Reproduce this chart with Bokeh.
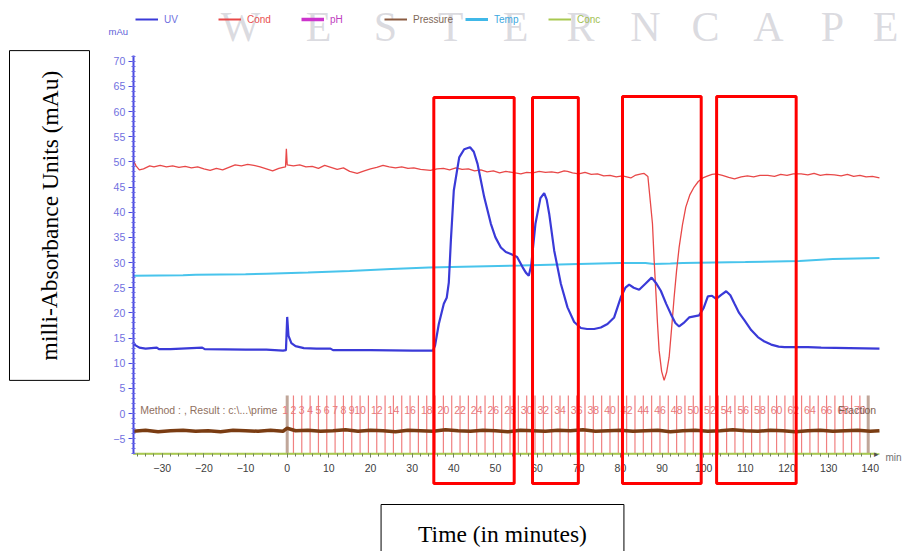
from bokeh.plotting import figure
from bokeh.models import (Range1d, LinearAxis, Legend, LegendItem, Label,
                          BoxAnnotation, ColumnDataSource, SingleIntervalTicker)
from bokeh.core.properties import value
from bokeh.embed import file_html
from bokeh.resources import INLINE

NaN = float("nan")

# ---------------- data ----------------
uv_x = [-37, -36.5, -35.5, -34, -31.3, -30.8, -28, -20.4, -19.8, -10, -5, -1, -0.3, 0.0, 0.3, 1, 2, 4, 7,
        10.4, 11, 15, 20, 30, 35, 35.5, 36.4, 37.6, 38.3, 38.8, 39.3, 40.0, 41.3, 42.5, 43.9, 44.8,
        45.7, 46.5, 47.3, 48.9, 50.0, 51.3, 52.5, 53.7, 55.2, 56.5, 57.3, 58.0, 58.6, 59.6, 60.8,
        61.7, 62.3, 62.9, 64.1, 65.7, 67.3, 68.9, 70.5, 72, 73.7, 75.3, 76.9, 78.5, 80.1, 81.2,
        82.1, 83.2, 84.5, 86.0, 87.5, 88.5, 89.7, 91.0, 92.1, 93.2, 94.1, 95.2, 96.5, 98.9, 100.0,
        101.0, 102.0, 103.0, 104.2, 105.4, 106.4, 107.4, 108.5, 109.8, 111.4, 113.0, 114.6, 116.2,
        118, 119.4, 125, 128.2, 135, 142.2]
uv_y = [14.2, 13.6, 13.1, 12.9, 13.1, 12.8, 12.8, 13.1, 12.8, 12.7, 12.7, 12.5, 12.6, 19.2, 15.5, 14.0,
        13.4, 13.0, 12.9, 12.9, 12.6, 12.6, 12.6, 12.5, 12.5, 13.5, 17.8, 21.8, 23.0, 26.0, 34.4,
        44.3, 50.9, 52.5, 52.9, 52.0, 49.6, 46.3, 43.0, 37.7, 35.0, 33.0, 32.1, 31.7, 31.1, 29.1,
        28.0, 27.4, 29.5, 37.7, 42.8, 43.8, 42.5, 39.7, 32.4, 25.8, 21.1, 18.2, 17.0, 16.8, 16.8,
        17.1, 17.8, 19.1, 23.1, 25.0, 25.6, 25.0, 24.6, 25.8, 27.0, 26.0, 24.4, 21.8, 19.8, 18.0,
        17.3, 18.0, 19.1, 19.5, 21.0, 23.3, 23.4, 22.8, 23.6, 24.3, 23.5, 21.8, 20.0, 18.5, 16.6,
        15.2, 14.3, 13.7, 13.3, 13.2, 13.2, 13.1, 13.0, 12.9]

cond_x = [-37, -36.3, -35.5, -34.5, -33, -32, -30.5, -29, -27.5, -26, -24.5, -23, -21.5, -20, -18.5,
          -17, -15.5, -14, -12.5, -11, -9.5, -8, -6.5, -5, -3.5, -2, -1, -0.4, -0.2, 0.0, 1.5, 3,
          4.5, 6, 7.5, 9, 10.5, 12, 13.5, 15, 16.8, 18.5, 20, 21.5, 23, 24.5, 26, 27.5, 29, 30.4,
          32, 34.4, 36, 37.5, 39, 40.5, 42, 43.5, 45, 46.5, 48, 49.5, 51, 52.5, 54, 56.1, 57.5, 59,
          60.5, 62, 63.5, 65, 66.5, 67.3, 68.5, 70, 71.5, 73, 74.5, 76, 77.5, 79, 80.5, 82.5, 83.5,
          85, 85.7, 86.6, 87.2, 87.7, 88.1, 88.5, 88.9, 89.3, 89.9, 90.5, 91.1, 91.7, 92.3, 92.9,
          93.5, 94.1, 94.9, 95.7, 96.7, 97.7, 98.7, 99.8, 101, 102, 103, 104.5, 106, 107.4, 109,
          110.5, 112, 113.5, 115.4, 117, 118.5, 120, 121.5, 123.4, 125, 126.5, 128, 129.5, 131.4,
          133, 134.5, 136, 137.5, 139, 140.5, 142.2]
cond_y = [50.4, 49.2, 48.4, 48.6, 49.2, 49.0, 49.3, 49.0, 49.2, 48.9, 49.1, 48.8, 49.0, 48.6, 48.3,
          48.7, 48.4, 48.9, 49.4, 49.2, 49.5, 49.3, 49.0, 48.6, 48.2, 48.7, 48.9, 49.0, 52.6, 49.4,
          49.2, 49.4, 49.0, 49.1, 48.7, 49.3, 48.9, 48.5, 48.8, 48.1, 47.7, 48.2, 48.6, 48.9, 49.3,
          49.0, 48.8, 49.0, 48.7, 48.8, 48.5, 48.3, 48.6, 48.7, 48.4, 48.8, 48.5, 48.6, 48.2, 48.4,
          48.0, 48.2, 47.8, 48.1, 47.9, 47.6, 47.9, 47.8, 48.1, 47.9, 48.0, 47.8, 48.2, 48.1, 47.8,
          47.6, 47.9, 47.5, 47.6, 47.2, 47.3, 47.0, 47.2, 46.8, 47.3, 47.6, 47.7, 47.1, 42.0, 37.7,
          30.5, 24.4, 18.0, 12.5, 8.4, 6.6, 8.2, 11.2, 17.0, 23.1, 28.5, 33.0, 37.5, 41.0, 43.5,
          45.0, 46.1, 46.8, 47.2, 47.5, 47.6, 47.3, 46.9, 46.6, 47.0, 47.2, 47.0, 47.3, 47.3, 47.1,
          47.5, 47.3, 47.6, 47.6, 47.4, 47.7, 47.3, 47.5, 47.4, 47.2, 47.5, 47.1, 47.3, 47.0, 47.1,
          46.8]

temp_x = [-37, -25, -22, -10, -5, 5, 15, 25, 34, 45, 56, 70, 80, 86, 88, 92, 95, 110, 123, 127, 131, 142.2]
temp_y = [27.4, 27.5, 27.6, 27.7, 27.8, 28.0, 28.3, 28.7, 29.0, 29.2, 29.4, 29.7, 29.9, 29.9, 29.7,
          29.8, 29.9, 30.1, 30.3, 30.5, 30.7, 30.9]

pressure_x = [-37, -34, -31, -28, -25, -22, -19, -16, -13, -10, -7, -4, -1, 0, 2, 5, 8, 11, 14, 17,
              20, 23, 26, 29, 32, 35, 38, 41, 44, 47, 50, 53, 56, 59, 62, 65, 68, 71, 74, 77, 80,
              83, 86, 89, 92, 95, 98, 101, 104, 107, 110, 113, 116, 119, 122, 125, 128, 131, 134,
              137, 140, 142.2]
pressure_y = [-3.5, -3.3, -3.6, -3.4, -3.3, -3.5, -3.4, -3.6, -3.3, -3.4, -3.5, -3.3, -3.5, -2.9,
              -3.4, -3.3, -3.5, -3.4, -3.2, -3.5, -3.3, -3.4, -3.6, -3.3, -3.4, -3.5, -3.2, -3.4,
              -3.5, -3.3, -3.4, -3.6, -3.3, -3.4, -3.5, -3.3, -3.4, -3.2, -3.5, -3.4, -3.3, -3.5,
              -3.4, -3.3, -3.6, -3.4, -3.3, -3.5, -3.4, -3.2, -3.4, -3.5, -3.3, -3.4, -3.6, -3.4,
              -3.3, -3.5, -3.4, -3.3, -3.5, -3.4]

conc_x = [-37, 142.2]
conc_y = [-8.0, -8.0]

# pH is listed in the legend but its trace is not visible in the chart: no readable values
ph_x = [-37, 142.2]
ph_y = [NaN, NaN]

frac_line_x = [1.5, 3.5, 5.5, 7.5, 9.5, 11.5, 13.5, 15.5, 17.5, 19.5, 21.5, 23.5, 25.5, 27.5, 29.5,
               31.5, 33.5, 35.5, 37.5, 39.5, 41.5, 43.5, 45.5, 47.5, 49.5, 51.5, 53.5, 55.5, 57.5,
               59.5, 61.5, 63.5, 65.5, 67.5, 69.5, 71.5, 73.5, 75.5, 77.5, 79.5, 81.5, 83.5, 85.5,
               87.5, 89.5, 91.5, 93.5, 95.5, 97.5, 99.5, 101.5, 103.5, 105.5, 107.5, 109.5, 111.5,
               113.5, 115.5, 117.5, 119.5, 121.5, 123.5, 125.5, 127.5, 129.5, 131.5, 133.5, 135.5,
               137.5]
marker_x = [0.0, 139.5]

frac_labels = ["1", "2", "3", "4", "5", "6", "7", "8", "9", "10", "12", "14", "16", "18", "20",
               "22", "24", "26", "28", "30", "32", "34", "36", "38", "40", "42", "44", "46", "48",
               "50", "52", "54", "56", "58", "60", "62", "64", "66", "68", "70"]
frac_label_x = [-0.5, 1.5, 3.5, 5.5, 7.5, 9.5, 11.5, 13.5, 15.5, 17.5, 21.5, 25.5, 29.5, 33.5,
                37.5, 41.5, 45.5, 49.5, 53.5, 57.5, 61.5, 65.5, 69.5, 73.5, 77.5, 81.5, 85.5, 89.5,
                93.5, 97.5, 101.5, 105.5, 109.5, 113.5, 117.5, 121.5, 125.5, 129.5, 133.5, 137.5]

# highlighted regions (left, right, bottom, top)
box_left = [35.2, 58.9, 80.5, 103.1]
box_right = [54.5, 69.9, 99.4, 122.2]
box_top = [62.8, 62.8, 63.0, 63.0]
box_bottom = [-13.9, -13.9, -13.9, -13.9]

x_ticks_interval = 10
y_ticks_interval = 5

legend_names = ["UV", "Cond", "pH", "Pressure", "Temp", "Conc"]
legend_colors = ["#3a3ad8", "#e84848", "#cc33cc", "#8a5a40", "#40b8e8", "#a8c850"]
legend_text_colors = ["#7070e0", "#e85050", "#c040c0", "#806858", "#40a8e0", "#a0c050"]
legend_widths = [2, 2, 3.5, 2, 3, 2]

watermark_letters = ["W", "E", "S", "T", "E", "R", "N", "C", "A", "P", "E"]

SANS = "Liberation Sans"
SERIF = "Liberation Serif"

W, H = 904, 551
X0_PX, X_SCALE = 286.7, 4.165     # page x of t=0, px per minute
Y0_PX, Y_SCALE = 413.1, 5.035     # page y of 0 mAu, px per mAu

# ---------------- figure: the frame fills the whole canvas ----------------
p = figure(width=W, height=H, output_backend="svg", toolbar_location=None, title=None,
           x_range=Range1d((0 - X0_PX) / X_SCALE, (W - X0_PX) / X_SCALE),
           y_range=Range1d((Y0_PX - H) / Y_SCALE, Y0_PX / Y_SCALE),
           x_axis_type=None, y_axis_type=None, min_border=0)
p.outline_line_color = None
p.background_fill_color = "white"
p.border_fill_color = "white"


def sx(px):          # page px -> frame screen units
    return px


def sy(py):
    return H - py


# watermark letters (kept fully inside the picture)
wm_px = [240, 318, 385, 450, 515, 580, 645, 705, 768, 832, 885]
for ch, px in zip(watermark_letters, wm_px):
    p.add_layout(Label(x=sx(px), y=sy(26), x_units="screen", y_units="screen", text=ch,
                       text_font=SERIF, text_font_size="42px", text_color="#c4c4cc",
                       text_alpha=0.6, text_align="center", text_baseline="middle",
                       level="underlay"))

# axes (placed at fixed data locations inside the frame)
xaxis = LinearAxis(fixed_location=-8, bounds=(-36.95, 141.5),
                   ticker=SingleIntervalTicker(interval=x_ticks_interval, num_minor_ticks=5))
xaxis.axis_line_color = "#a8c850"
xaxis.axis_line_width = 1.5
xaxis.major_tick_line_color = "#708060"
xaxis.minor_tick_line_color = "#708060"
xaxis.major_tick_in = 0
xaxis.major_tick_out = 4
xaxis.minor_tick_in = 0
xaxis.minor_tick_out = 3
xaxis.major_label_standoff = 6
xaxis.major_label_text_font = SANS
xaxis.major_label_text_font_size = "10.5px"
xaxis.major_label_text_color = "#404040"
p.add_layout(xaxis, "below")

yaxis = LinearAxis(fixed_location=-36.95, bounds=(-8, 71.1),
                   ticker=SingleIntervalTicker(interval=y_ticks_interval, num_minor_ticks=5))
yaxis.axis_line_color = "#4a4ae0"
yaxis.axis_line_width = 2
yaxis.major_tick_line_color = "#4a4ae0"
yaxis.minor_tick_line_color = "#6a6ae8"
yaxis.major_tick_in = 0
yaxis.major_tick_out = 5
yaxis.minor_tick_in = 2
yaxis.minor_tick_out = 2
yaxis.major_label_standoff = 3
yaxis.major_label_text_font = SANS
yaxis.major_label_text_font_size = "10.5px"
yaxis.major_label_text_color = "#7070e0"
p.add_layout(yaxis, "left")

# fraction marks
frac_src = ColumnDataSource(dict(x=frac_line_x, y0=[3.6] * len(frac_line_x), y1=[-8] * len(frac_line_x)))
p.segment(x0="x", y0="y0", x1="x", y1="y1", source=frac_src, line_color="#f08080", line_width=1.2)
mk_src = ColumnDataSource(dict(x=marker_x, y0=[3.6] * len(marker_x), y1=[-8] * len(marker_x)))
p.segment(x0="x", y0="y0", x1="x", y1="y1", source=mk_src, line_color="#b09080", line_width=3, line_alpha=0.8)

# conc and pressure
p.line(conc_x, conc_y, line_color="#a8c850", line_width=1.5)
p.line(pressure_x, pressure_y, line_color="#7a3c12", line_width=3.5)

# temp, cond, uv
p.line(temp_x, temp_y, line_color="#48c4ec", line_width=2)
p.line(cond_x, cond_y, line_color="#e84848", line_width=1.3)
p.line(uv_x, uv_y, line_color="#3a3ad8", line_width=2.2)

# fraction labels
lab_src = ColumnDataSource(dict(x=frac_label_x, y=[0.8] * len(frac_label_x), t=frac_labels))
p.text(x="x", y="y", text="t", source=lab_src, text_font=value(SANS), text_font_size="10.5px",
       text_color="#e87878", text_align="center", text_baseline="middle")

p.add_layout(Label(x=-35.3, y=0.8, text="Method : , Result : c:\\...\\prime", text_font=SANS,
                   text_font_size="10.5px", text_color="#907060", text_baseline="middle"))
p.add_layout(Label(x=132.3, y=0.8, text="Fraction", text_font=SANS,
                   text_font_size="10.5px", text_color="#806050", text_baseline="middle"))

# highlight boxes
for l, r, b, t in zip(box_left, box_right, box_bottom, box_top):
    p.add_layout(BoxAnnotation(left=l, right=r, bottom=b, top=t, fill_color=None, fill_alpha=0,
                               line_color="#ff0000", line_alpha=1.0, line_width=3, level="overlay"))

# legend (one single-item legend per series so each has its own colour);
# the legend keys are drawn from style-only proxy renderers without visible data
leg_px = [135, 218, 301, 384, 465, 548]
for name, col, tcol, lw, px in zip(legend_names, legend_colors, legend_text_colors, legend_widths, leg_px):
    proxy = p.line(x=ph_x, y=ph_y, line_color=col, line_width=lw)
    lg = Legend(items=[LegendItem(label=name, renderers=[proxy])], location=(sx(px), sy(25)),
                orientation="horizontal", glyph_width=23, glyph_height=12, label_height=12,
                label_width=20, label_standoff=6, padding=0, margin=0, spacing=0,
                border_line_color=None, background_fill_alpha=0,
                label_text_font=SANS, label_text_font_size="10px", label_text_color=tcol)
    p.add_layout(lg)

# small texts
p.add_layout(Label(x=sx(108), y=sy(31), x_units="screen", y_units="screen", text="mAu",
                   text_font=SANS, text_font_size="9.5px", text_color="#6060d8",
                   text_baseline="middle"))
p.add_layout(Label(x=sx(885), y=sy(457), x_units="screen", y_units="screen", text="min",
                   text_font=SANS, text_font_size="10px", text_color="#707070",
                   text_baseline="middle"))
p.add_layout(Label(x=141.6, y=-8, text="\u25b8", text_font=SANS, text_font_size="9px",
                   text_color="#505050", text_baseline="middle", text_align="center"))

# boxed axis titles
p.add_layout(Label(x=sx(49), y=sy(215), x_units="screen", y_units="screen",
                   text="milli-Absorbance Units (mAu)", angle=1.5707963, text_font=SERIF,
                   text_font_size="23.5px", text_color="black", text_align="center",
                   text_baseline="middle", border_line_color="black", border_line_width=1,
                   background_fill_color="white", padding=(20, 27)))
p.add_layout(Label(x=sx(502), y=sy(533), x_units="screen", y_units="screen",
                   text="Time (in minutes)", text_font=SERIF,
                   text_font_size="23.5px", text_color="black", text_align="center",
                   text_baseline="middle", border_line_color="black", border_line_width=1,
                   background_fill_color="white", padding=(37, 16)))

open("out.html", "w").write(file_html(p, INLINE))
